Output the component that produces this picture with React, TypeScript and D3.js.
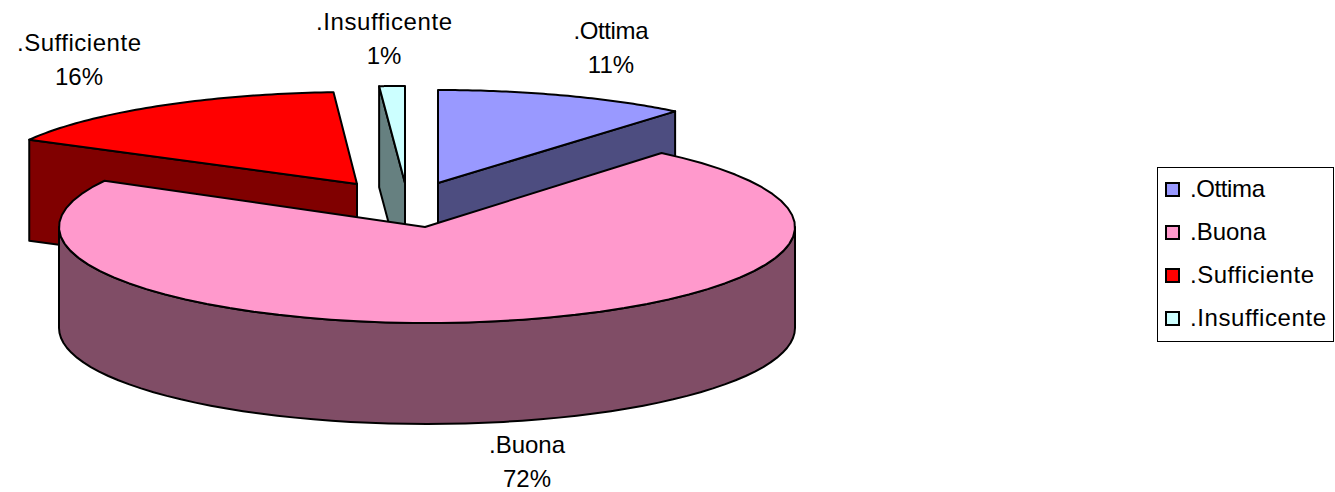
import React from 'react';
import * as d3 from 'd3';

const categories = ['.Ottima', '.Buona', '.Sufficiente', '.Insufficente'];
const shares = [11, 72, 16, 1];
const topColors = ['#9999ff', '#ff99cc', '#ff0000', '#ccffff'];
const sideColors = ['#4d4d80', '#804d66', '#800000', '#668080'];

// exploded slice apex positions and ellipse radii
const apexX = [438, 425, 357, 405];
const apexY = [183, 227, 184, 183];
const centerX = [438, 427, 357, 405];
const radiusX = [372, 368, 374, 412];
const radiusY = [93, 96, 92, 97];
const depth = 101;

// data label anchors (centre x, first baseline)
const labelX = [611, 527, 79, 384];
const labelY = [39, 453, 51, 30];
const labelWidth = [75, 76, 124, 136];

const WIDTH = 1335;
const HEIGHT = 492;
const FONT = '"Liberation Sans", Arial, sans-serif';

const pie = d3.pie<number>().sort(null).value(d => d);
const arcs = pie(shares);

const point = (i: number, a: number, dy = 0): [number, number] => [
  centerX[i] + radiusX[i] * Math.sin(a),
  apexY[i] - radiusY[i] * Math.cos(a) + dy,
];

const rim = (i: number, a0: number, a1: number, dy = 0) =>
  d3.range(0, 61).map(k => point(i, a0 + ((a1 - a0) * k) / 60, dy));

const line = d3.line();

const topPath = (i: number) =>
  line([[apexX[i], apexY[i]], ...rim(i, arcs[i].startAngle, arcs[i].endAngle)]) + 'Z';

// flat cut face running from the apex out to one rim point
const cutPath = (i: number, a: number) =>
  line([
    [apexX[i], apexY[i]],
    point(i, a),
    point(i, a, depth),
    [apexX[i], apexY[i] + depth],
  ]) + 'Z';

// curved outer wall, only the front half of the ellipse shows
const wallPath = (i: number) => {
  const a0 = Math.PI / 2;
  const a1 = (3 * Math.PI) / 2;
  return line([...rim(i, a0, a1), ...rim(i, a1, a0, depth)]) + 'Z';
};

const legendY = d3.scalePoint<string>().domain(categories).range([189, 318]);

export default function App() {
  const stroke = { stroke: '#000', strokeWidth: 2, strokeLinejoin: 'round' as const };
  // back slices first so the big slice covers them
  const drawOrder = [2, 3, 0];
  return (
    <svg
      width={WIDTH}
      height={HEIGHT}
      viewBox={`0 0 ${WIDTH} ${HEIGHT}`}
      style={{ position: 'absolute', left: 0, top: 0, background: '#fff' }}
    >
      {drawOrder.map(i => {
        const cutAngle = i === 0 ? arcs[i].endAngle : arcs[i].startAngle;
        return (
          <g key={categories[i]}>
            <path d={cutPath(i, cutAngle)} fill={sideColors[i]} {...stroke} />
            <path d={topPath(i)} fill={topColors[i]} {...stroke} />
          </g>
        );
      })}
      <path d={wallPath(1)} fill={sideColors[1]} {...stroke} />
      <path d={topPath(1)} fill={topColors[1]} {...stroke} />

      <g fontFamily={FONT} fontSize={24} fill="#000" textAnchor="middle">
        {categories.map((c, i) => (
          <g key={c}>
            <text x={labelX[i]} y={labelY[i]} textLength={labelWidth[i]} lengthAdjust="spacing">
              {c}
            </text>
            <text x={labelX[i]} y={labelY[i] + 34}>
              {shares[i]}%
            </text>
          </g>
        ))}
      </g>

      <rect x={1157.5} y={167.5} width={176} height={174} fill="#fff" stroke="#000" strokeWidth={1} />
      {categories.map((c, i) => (
        <g key={c}>
          <rect
            x={1166}
            y={legendY(c)! - 6}
            width={13}
            height={13}
            fill={topColors[i]}
            stroke="#000"
            strokeWidth={2}
          />
          <text
            x={1190}
            y={legendY(c)! + 8}
            fontFamily={FONT}
            fontSize={24}
            textLength={labelWidth[i]}
            lengthAdjust="spacing"
          >
            {c}
          </text>
        </g>
      ))}
    </svg>
  );
}
